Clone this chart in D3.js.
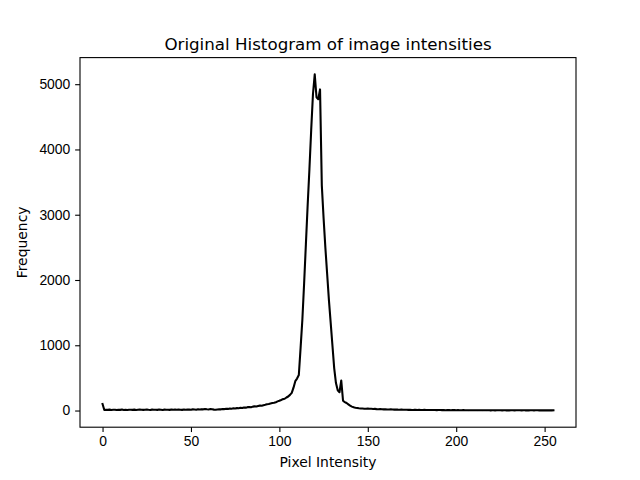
<!DOCTYPE html>
<html>
<head>
<meta charset="utf-8">
<script src="https://cdn.jsdelivr.net/npm/d3@7/dist/d3.min.js"></script>
<style>
  html, body { margin: 0; padding: 0; background: #fff; }
  svg { display: block; font-family: "DejaVu Sans", sans-serif; }
  .axis text { font-size: 13.9px; fill: #000; }
  .axis path, .axis line { stroke: #000; stroke-width: 1.1px; }
</style>
</head>
<body>
<div id="chart"></div>
<script>
// pixel intensity bins 0..255
const intensities = d3.range(0, 256);

// counts per bin
const counts = [
  100, 8, 12, 10, 14, 9, 11, 13, 7, 12,
  10, 15, 9, 11, 8, 13, 12, 10, 14, 9,
  12, 15, 11, 10, 13, 16, 12, 9, 14, 11,
  13, 10, 15, 12, 9, 14, 11, 13, 10, 16,
  12, 14, 11, 15, 13, 10, 17, 12, 14, 16,
  13, 18, 15, 12, 19, 16, 21, 18, 24, 20,
  17, 22, 19, 14, 12, 16, 20, 18, 24, 22,
  27, 25, 30, 28, 34, 31, 37, 35, 42, 39,
  46, 44, 52, 55, 51, 60, 64, 62, 70, 75,
  72, 82, 88, 95, 100, 108, 115, 120, 128, 140,
  150, 162, 175, 180, 200, 215, 240, 270, 350, 450,
  490, 545, 960, 1390, 1950, 2550, 3150, 3700, 4300, 4850,
  5150, 4800, 4770, 4920, 3450, 2950, 2500, 2100, 1700, 1350,
  1000, 650, 420, 310, 280, 460, 150, 130, 115, 95,
  75, 60, 50, 44, 40, 35, 32, 30, 28, 27,
  30, 28, 26, 24, 25, 22, 20, 21, 19, 18,
  20, 17, 16, 18, 15, 14, 16, 14, 13, 15,
  12, 11, 13, 10, 11, 9, 10, 12, 9, 10,
  8, 9, 10, 8, 7, 9, 8, 7, 8, 6,
  7, 8, 6, 7, 5, 6, 7, 5, 6, 6,
  5, 6, 4, 5, 6, 4, 5, 3, 5, 4,
  4, 5, 3, 4, 4, 3, 5, 3, 4, 3,
  3, 4, 2, 3, 4, 3, 2, 4, 3, 3,
  2, 3, 4, 2, 3, 5, 3, 2, 4, 3,
  3, 2, 4, 3, 2, 3, 4, 2, 3, 3,
  2, 3, 2, 3, 2, 4
];

const xTicks = [0, 50, 100, 150, 200, 250];
const yTicks = [0, 1000, 2000, 3000, 4000, 5000];

const W = 640, H = 480;
const margin = {left: 80, right: 64, top: 57.6, bottom: 52.8};
const width = W - margin.left - margin.right;
const height = H - margin.top - margin.bottom;

const data = intensities.map((v, i) => ({x: v, y: counts[i]}));

// matplotlib-like 5% padding around the data range
let xMin = d3.min(intensities), xMax = d3.max(intensities);
let yMin = d3.min(counts), yMax = d3.max(counts);
let xPad = (xMax - xMin) * 0.05, yPad = (yMax - yMin) * 0.05;

let xScale = d3.scaleLinear().domain([xMin - xPad, xMax + xPad]).range([0, width]);
let yScale = d3.scaleLinear().domain([yMin - yPad, yMax + yPad]).range([height, 0]);

let svg = d3.select('#chart').append('svg')
  .attr('width', W)
  .attr('height', H);

let g = svg.append('g')
  .attr('transform', 'translate(' + margin.left + ',' + margin.top + ')');

let line = d3.line()
  .x((d) => xScale(d.x))
  .y((d) => yScale(d.y));

g.append('path')
  .datum(data)
  .attr('fill', 'none')
  .attr('stroke', '#000')
  .attr('stroke-width', 2.08)
  .attr('stroke-linejoin', 'round')
  .attr('stroke-linecap', 'square')
  .attr('d', line);

let xAxis = d3.axisBottom(xScale).tickValues(xTicks).tickFormat(d3.format('d'))
  .tickSize(4.86).tickPadding(4.5).tickSizeOuter(0);
let yAxis = d3.axisLeft(yScale).tickValues(yTicks).tickFormat(d3.format('d'))
  .tickSize(4.86).tickPadding(4.86).tickSizeOuter(0);

g.append('g')
  .attr('class', 'axis')
  .attr('transform', 'translate(0,' + height + ')')
  .call(xAxis)
  .call((s) => s.select('.domain').remove());

g.append('g')
  .attr('class', 'axis')
  .call(yAxis)
  .call((s) => s.select('.domain').remove());

// frame
g.append('rect')
  .attr('x', 0)
  .attr('y', 0)
  .attr('width', width)
  .attr('height', height)
  .attr('fill', 'none')
  .attr('stroke', '#000')
  .attr('stroke-width', 1.1);

svg.append('text')
  .attr('x', margin.left + width / 2)
  .attr('y', margin.top - 8)
  .attr('text-anchor', 'middle')
  .style('font-size', '16.7px')
  .text('Original Histogram of image intensities');

svg.append('text')
  .attr('x', margin.left + width / 2)
  .attr('y', 467)
  .attr('text-anchor', 'middle')
  .style('font-size', '13.9px')
  .text('Pixel Intensity');

svg.append('text')
  .attr('transform', 'translate(27,' + (margin.top + height / 2) + ') rotate(-90)')
  .attr('text-anchor', 'middle')
  .style('font-size', '13.9px')
  .text('Frequency');
</script>
</body>
</html>
